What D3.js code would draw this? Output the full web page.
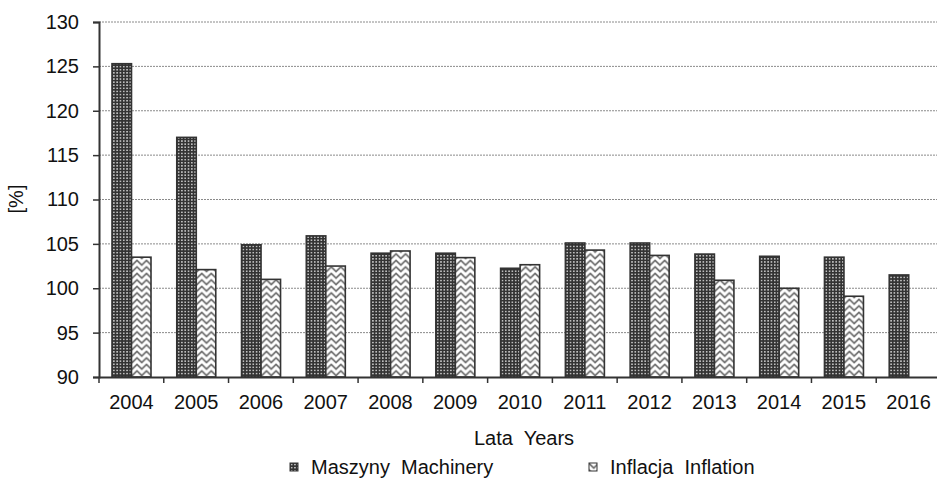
<!DOCTYPE html>
<html>
<head>
<meta charset="utf-8">
<script src="https://cdn.jsdelivr.net/npm/d3@7"></script>
<style>
  html, body { margin: 0; padding: 0; background: #fff; }
  svg { display: block; font-family: "Liberation Sans", Arial, sans-serif; }
</style>
</head>
<body>
<svg id="chart" width="937" height="481"></svg>
<script>
// Annual indices of machinery prices and inflation, previous year = 100
const years = ["2004","2005","2006","2007","2008","2009","2010","2011","2012","2013","2014","2015","2016"];
const machinery = [125.3, 117.0, 104.9, 105.9, 103.95, 103.95, 102.25, 105.1, 105.1, 103.85, 103.6, 103.5, 101.5];
const inflation = [103.5, 102.1, 101.0, 102.5, 104.2, 103.45, 102.65, 104.3, 103.7, 100.9, 100.0, 99.1, null];
const seriesNames = ["Maszyny  Machinery", "Inflacja  Inflation"];
const yTicks = [90, 95, 100, 105, 110, 115, 120, 125, 130];

const svg = d3.select("#chart");
const plotLeft = 99, plotRight = 941, plotTop = 22, plotBottom = 377;
const fontSize = 20;

// fill patterns
const defs = svg.append("defs");
const dots = defs.append("pattern").attr("id", "pat-dots")
  .attr("patternUnits", "userSpaceOnUse").attr("width", 3.3).attr("height", 3.1);
dots.append("rect").attr("width", 3.3).attr("height", 3.1).attr("fill", "#333");
dots.append("rect").attr("x", 0.9).attr("y", 0.8).attr("width", 1.5).attr("height", 1.5).attr("fill", "#d0d0d0");

const zig = defs.append("pattern").attr("id", "pat-zig")
  .attr("patternUnits", "userSpaceOnUse").attr("width", 9.5).attr("height", 6.5);
zig.append("rect").attr("width", 9.5).attr("height", 6.5).attr("fill", "#fff");
zig.append("path").attr("d", "M-1,-0.5 L4.75,5 L10.5,-0.5 M-1,6 L4.75,11.5 L10.5,6")
  .attr("fill", "none").attr("stroke", "#707070").attr("stroke-width", 1.8);

const fills = ["url(#pat-dots)", "url(#pat-zig)"];

const x = d3.scaleBand().domain(years).range([plotLeft, plotRight]).padding(0);
const xs = d3.scaleBand().domain([0, 1]).range([13, 52]).padding(0);
const y = d3.scaleLinear().domain([90, 130]).range([plotBottom, plotTop]);

// horizontal grid
svg.append("g").selectAll("line").data(yTicks.filter(t => t > 90)).join("line")
  .attr("x1", plotLeft).attr("x2", 937)
  .attr("y1", d => y(d)).attr("y2", d => y(d))
  .attr("stroke", "#8a8a8a").attr("stroke-width", 1).attr("stroke-dasharray", "2,1");

// bars
const rows = years.map((yr, i) => ({ yr, vals: [machinery[i], inflation[i]] }));
const groups = svg.append("g").selectAll("g").data(rows).join("g")
  .attr("transform", d => `translate(${x(d.yr)},0)`);
groups.selectAll("rect")
  .data(d => d.vals.map((v, k) => ({ v, k })).filter(e => e.v != null))
  .join("rect")
  .attr("x", e => xs(e.k)).attr("width", xs.bandwidth())
  .attr("y", e => y(e.v)).attr("height", e => y(90) - y(e.v))
  .attr("fill", e => fills[e.k])
  .attr("stroke", "#333").attr("stroke-width", 1.6);

// y axis
const yAxis = svg.append("g").attr("transform", `translate(${plotLeft},0)`)
  .call(d3.axisLeft(y).tickValues(yTicks).tickSize(6).tickPadding(14));
yAxis.select(".domain").attr("stroke", "#333").attr("stroke-width", 2);
yAxis.selectAll(".tick line").attr("stroke", "#333").attr("stroke-width", 1.5);
yAxis.selectAll(".tick text").attr("font-size", fontSize).attr("fill", "#111")
  .attr("font-family", "Liberation Sans, Arial, sans-serif");

// x axis with ticks at category boundaries
const xAxis = svg.append("g").attr("transform", `translate(0,${plotBottom})`)
  .call(d3.axisBottom(x).tickSize(0).tickPadding(18));
xAxis.select(".domain").attr("stroke", "#333").attr("stroke-width", 2);
xAxis.selectAll(".tick text").attr("font-size", fontSize).attr("fill", "#111")
  .attr("font-family", "Liberation Sans, Arial, sans-serif");
xAxis.append("g").selectAll("line").data(years.slice(1)).join("line")
  .attr("x1", d => x(d)).attr("x2", d => x(d)).attr("y1", 0).attr("y2", 6)
  .attr("stroke", "#333").attr("stroke-width", 1.5);
xAxis.append("line").attr("x1", plotLeft).attr("x2", plotLeft).attr("y1", 0).attr("y2", 6)
  .attr("stroke", "#333").attr("stroke-width", 1.5);

// axis titles
svg.append("text").attr("x", 524).attr("y", 445).attr("text-anchor", "middle")
  .attr("font-size", fontSize).attr("fill", "#111").style("white-space", "pre").text("Lata  Years");
svg.append("text").attr("transform", "translate(23,199) rotate(-90)")
  .attr("text-anchor", "middle").attr("font-size", fontSize).attr("fill", "#111").text("[%]");

// legend
const legendX = [290, 589];
const lg = svg.append("g").selectAll("g").data(seriesNames).join("g")
  .attr("transform", (d, i) => `translate(${legendX[i]},463)`);
lg.append("rect").attr("width", 8).attr("height", 8)
  .attr("fill", (d, i) => fills[i]).attr("stroke", "#333").attr("stroke-width", 1);
lg.append("text").attr("x", 21).attr("y", 11).attr("font-size", fontSize).attr("fill", "#111")
  .style("white-space", "pre").text(d => d);
</script>
</body>
</html>
